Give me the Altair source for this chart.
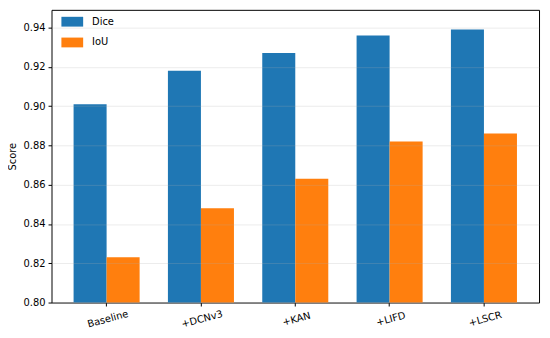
import altair as alt
import pandas as pd

categories = ["Baseline", "+DCNv3", "+KAN", "+LIFD", "+LSCR"]
dice = [0.901, 0.918, 0.927, 0.936, 0.939]
iou = [0.823, 0.848, 0.863, 0.882, 0.886]
series = ["Dice", "IoU"]
y_ticks = [0.80, 0.82, 0.84, 0.86, 0.88, 0.90, 0.92, 0.94]

rows = []
for c, d, i in zip(categories, dice, iou):
    rows.append({"cat": c, "metric": "Dice", "value": d})
    rows.append({"cat": c, "metric": "IoU", "value": i})
df = pd.DataFrame(rows)

FONT = "DejaVu Sans"

chart = alt.Chart(df).mark_bar(clip=True).encode(
    x=alt.X("cat:N", sort=categories,
            scale=alt.Scale(paddingInner=0.3, paddingOuter=0.234),
            axis=alt.Axis(title=None, labelAngle=345, labelAlign="center",
                          labelBaseline="top", labelPadding=8, tickSize=3.5,
                          tickColor="black", domain=False, labelColor="black",
                          labelFont=FONT, labelFontSize=10, grid=False)),
    xOffset=alt.XOffset("metric:N", sort=series,
                        scale=alt.Scale(paddingInner=0, paddingOuter=0)),
    y=alt.Y("value:Q", scale=alt.Scale(domain=[0.80, 0.949], nice=False, zero=False),
            axis=alt.Axis(title="Score", values=y_ticks, format=".2f",
                          tickSize=3.5, tickColor="black", domain=False,
                          labelColor="black", labelFont=FONT, labelFontSize=10,
                          titleFont=FONT, titleFontSize=10, titleFontWeight="normal",
                          titleColor="black", titlePadding=6, labelPadding=3,
                          grid=True, gridColor="#b0b0b0", gridOpacity=0.3,
                          gridWidth=0.8, zindex=1)),
    color=alt.Color("metric:N", sort=series,
                    scale=alt.Scale(domain=series, range=["#1f77b4", "#ff7f0e"]),
                    legend=alt.Legend(title=None, orient="none", legendX=10, legendY=1,
                                      symbolType="M-1,-0.45H1V0.45H-1Z",
                                      symbolSize=484, symbolStrokeWidth=0,
                                      labelFont=FONT, labelFontSize=10,
                                      labelColor="black", rowPadding=5,
                                      labelOffset=9)),
).properties(
    width=493, height=296,
    autosize=alt.AutoSizeParams(type="none"),
    padding={"left": 44, "top": 0, "right": 3, "bottom": 35},
).configure_view(
    stroke="black", strokeWidth=1
)

chart.save("out.html", embed_options={"renderer": "svg", "actions": False})
